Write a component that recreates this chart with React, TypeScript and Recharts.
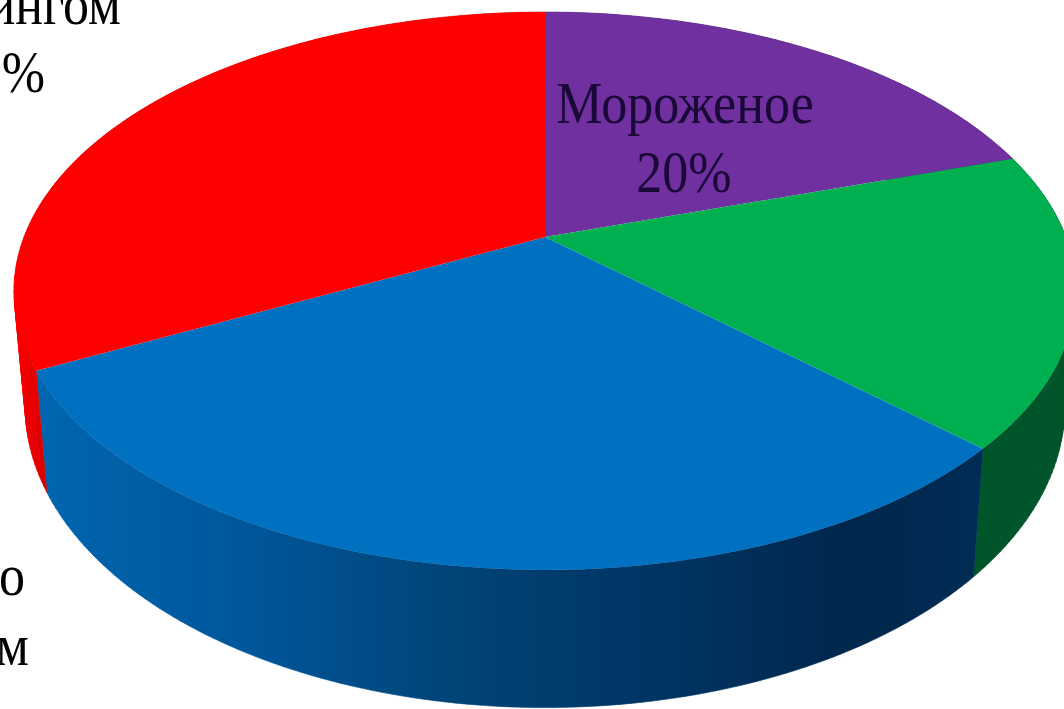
import React from 'react';
import { PieChart, Pie } from 'recharts';

const sliceNames = ['Мороженое', 'Зелёный', 'Синий', 'Красный'];
const sliceValues = [20, 17, 30.5, 32.5];
const topColors = ['#7030a0', '#00b050', '#0070c0', '#ff0000'];
const wallColors = ['#4a2070', '#00552a', 'url(#blueWall)', 'url(#redWall)'];
// the outer labels run off the edge of the page, only their ends show
const sliceLabels = [['Мороженое', '20%'], [], ['о', 'м'], ['ингом', '33%']];

const data = sliceNames.map((name, i) => ({
  name,
  value: sliceValues[i],
  top: topColors[i],
  wall: wallColors[i],
  lines: sliceLabels[i],
}));

const labelSpots: { x: number; y: number; anchor: 'middle' | 'end'; spacing?: number }[][] = [
  [
    { x: 685, y: 123, anchor: 'middle' },
    { x: 684, y: 192, anchor: 'middle' },
  ],
  [],
  [
    { x: 25, y: 595, anchor: 'end' },
    { x: 29, y: 665, anchor: 'end' },
  ],
  [
    { x: 121, y: 24, anchor: 'end' },
    { x: 48, y: 92, anchor: 'end', spacing: 3 },
  ],
];

const CX = 545;
const CY = 237;
const TILT = 0.1935; // perspective foreshortening of the disc
const WIDTH_TOP = 521;
const HEIGHT_TOP = 268.5;
const WIDTH_BOTTOM = 510;
const HEIGHT_BOTTOM = 290;
const BOTTOM_DROP = 111;

const rad = Math.PI / 180;

const rimTop = (deg: number) => {
  const X = Math.cos(deg * rad);
  const Y = Math.sin(deg * rad);
  const w = 1 + TILT * Y;
  return [CX + (WIDTH_TOP * X) / w, CY - (HEIGHT_TOP * Y) / w];
};

const rimBottom = (deg: number) => {
  const X = Math.cos(deg * rad);
  const Y = Math.sin(deg * rad);
  const w = 1 + TILT * Y;
  return [CX + (WIDTH_BOTTOM * X) / w, CY + BOTTOM_DROP - (HEIGHT_BOTTOM * Y) / w];
};

const anglesBetween = (start: number, end: number) => {
  const steps = Math.max(2, Math.ceil(Math.abs(end - start)));
  const out: number[] = [];
  for (let i = 0; i <= steps; i++) out.push(start + ((end - start) * i) / steps);
  return out;
};

const TopShape = (props: any) => {
  const pts = anglesBetween(props.startAngle, props.endAngle).map((a) => rimTop(a));
  const d = `M${CX},${CY} ` + pts.map((p) => `L${p[0]},${p[1]}`).join(' ') + ' Z';
  return <path d={d} fill={props.payload?.top ?? props.top} stroke="none" />;
};

// quads wind the same way so overlaps at the fold of the wall don't cancel out
const quadPath = (quad: number[][]) => {
  let area = 0;
  quad.forEach((p, i) => {
    const q = quad[(i + 1) % quad.length];
    area += p[0] * q[1] - q[0] * p[1];
  });
  const pts = area < 0 ? [...quad].reverse() : quad;
  return 'M' + pts.map((p) => `${p[0]},${p[1]}`).join(' L') + ' Z ';
};

const WallShape = (props: any) => {
  const angles = anglesBetween(props.startAngle, props.endAngle);
  let d = '';
  for (let i = 0; i < angles.length - 1; i++) {
    d += quadPath([
      rimTop(angles[i]),
      rimTop(angles[i + 1]),
      rimBottom(angles[i + 1]),
      rimBottom(angles[i]),
    ]);
  }
  const fill = props.payload?.wall ?? props.wall;
  return <path d={d} fill={fill} stroke={fill} strokeWidth={0.6} />;
};

const renderLabel = (props: any) => {
  const spots = labelSpots[props.index];
  const lines: string[] = sliceLabels[props.index];
  return (
    <g key={props.index}>
      {lines.map((line, i) => (
        <text
          key={line}
          transform={`translate(${spots[i].x},${spots[i].y}) scale(1,1.14)`}
          textAnchor={spots[i].anchor}
          fontFamily="'Liberation Serif', serif"
          fontSize={52}
          letterSpacing={spots[i].spacing ?? 0}
          fill={props.index === 0 ? '#1a0838' : '#000'}
        >
          {line}
        </text>
      ))}
    </g>
  );
};

export default function App() {
  return (
    <div style={{ position: 'absolute', left: 0, top: 0, width: 1064, height: 709, overflow: 'hidden', background: '#fff' }}>
      <PieChart width={1064} height={709} margin={{ top: 0, right: 0, bottom: 0, left: 0 }}>
        <defs>
          <linearGradient id="blueWall" gradientUnits="userSpaceOnUse" x1={40} y1={0} x2={980} y2={0}>
            <stop offset="0" stopColor="#0066b0" />
            <stop offset="0.22" stopColor="#00569a" />
            <stop offset="0.44" stopColor="#004478" />
            <stop offset="0.65" stopColor="#003564" />
            <stop offset="0.86" stopColor="#00274c" />
            <stop offset="1" stopColor="#002c55" />
          </linearGradient>
          <linearGradient id="redWall" gradientUnits="userSpaceOnUse" x1={12} y1={0} x2={50} y2={0}>
            <stop offset="0" stopColor="#ff0000" />
            <stop offset="1" stopColor="#d40000" />
          </linearGradient>
        </defs>
        <Pie
          data={data}
          dataKey="value"
          nameKey="name"
          cx={CX}
          cy={CY}
          outerRadius={100}
          startAngle={90}
          endAngle={-270}
          stroke="none"
          isAnimationActive={false}
          shape={WallShape}
        />
        <Pie
          data={data}
          dataKey="value"
          nameKey="name"
          cx={CX}
          cy={CY}
          outerRadius={100}
          startAngle={90}
          endAngle={-270}
          stroke="none"
          isAnimationActive={false}
          shape={TopShape}
          label={renderLabel}
          labelLine={false}
        />
      </PieChart>
    </div>
  );
}
